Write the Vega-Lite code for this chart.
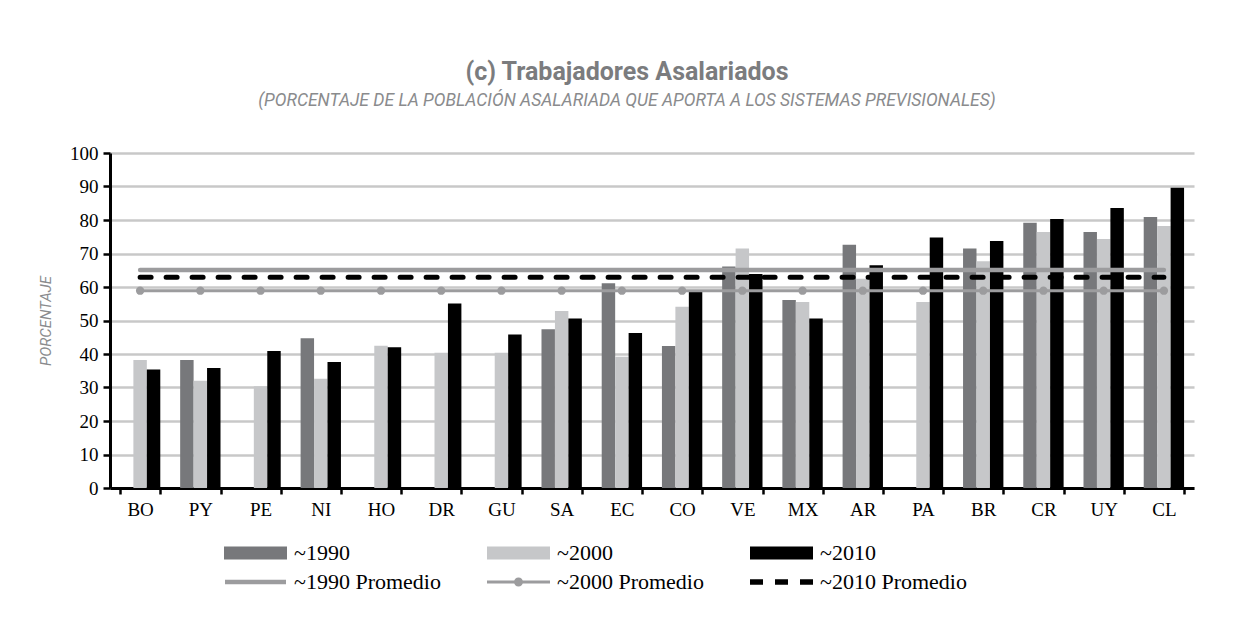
{
  "$schema": "https://vega.github.io/schema/vega-lite/v6.json",
  "autosize": {"type": "none"},
  "width": 1084,
  "height": 335,
  "padding": {"left": 110, "top": 153, "right": 49, "bottom": 150},
  "background": "white",
  "title": {
    "text": "(c) Trabajadores Asalariados",
    "subtitle": "(PORCENTAJE DE LA POBLACIÓN ASALARIADA QUE APORTA A LOS SISTEMAS PREVISIONALES)",
    "anchor": "middle",
    "frame": "group",
    "dx": -25,
    "offset": 35,
    "font": "Roboto",
    "fontSize": 25,
    "fontWeight": "bold",
    "color": "#7b7c7e",
    "subtitleFont": "Roboto",
    "subtitleFontSize": 17.5,
    "subtitleFontStyle": "italic",
    "subtitleColor": "#8a8b8d",
    "subtitlePadding": 7
  },
  "config": {
    "view": {"stroke": null},
    "axis": {
      "labelFont": "Liberation Serif",
      "labelFontSize": 19,
      "labelColor": "black",
      "domainColor": "black",
      "domainWidth": 3,
      "tickColor": "black",
      "tickWidth": 2.5
    },
    "legend": {
      "labelFont": "Liberation Serif",
      "labelFontSize": 22,
      "labelColor": "black"
    }
  },
  "datasets": {
    "barras": [
      {"pais": "BO", "serie": "~2000", "valor": 38.2},
      {"pais": "BO", "serie": "~2010", "valor": 35.4},
      {"pais": "PY", "serie": "~1990", "valor": 38.2},
      {"pais": "PY", "serie": "~2000", "valor": 32.0},
      {"pais": "PY", "serie": "~2010", "valor": 35.8},
      {"pais": "PE", "serie": "~2000", "valor": 30.4},
      {"pais": "PE", "serie": "~2010", "valor": 40.9},
      {"pais": "NI", "serie": "~1990", "valor": 44.7},
      {"pais": "NI", "serie": "~2000", "valor": 32.6},
      {"pais": "NI", "serie": "~2010", "valor": 37.6},
      {"pais": "HO", "serie": "~2000", "valor": 42.5},
      {"pais": "HO", "serie": "~2010", "valor": 42.0},
      {"pais": "DR", "serie": "~2000", "valor": 40.4},
      {"pais": "DR", "serie": "~2010", "valor": 55.1},
      {"pais": "GU", "serie": "~2000", "valor": 40.4},
      {"pais": "GU", "serie": "~2010", "valor": 45.8},
      {"pais": "SA", "serie": "~1990", "valor": 47.4},
      {"pais": "SA", "serie": "~2000", "valor": 52.8},
      {"pais": "SA", "serie": "~2010", "valor": 50.6},
      {"pais": "EC", "serie": "~1990", "valor": 61.1},
      {"pais": "EC", "serie": "~2000", "valor": 39.2},
      {"pais": "EC", "serie": "~2010", "valor": 46.3},
      {"pais": "CO", "serie": "~1990", "valor": 42.4},
      {"pais": "CO", "serie": "~2000", "valor": 54.1},
      {"pais": "CO", "serie": "~2010", "valor": 58.8},
      {"pais": "VE", "serie": "~1990", "valor": 66.1},
      {"pais": "VE", "serie": "~2000", "valor": 71.5},
      {"pais": "VE", "serie": "~2010", "valor": 63.9},
      {"pais": "MX", "serie": "~1990", "valor": 56.1},
      {"pais": "MX", "serie": "~2000", "valor": 55.5},
      {"pais": "MX", "serie": "~2010", "valor": 50.6},
      {"pais": "AR", "serie": "~1990", "valor": 72.6},
      {"pais": "AR", "serie": "~2000", "valor": 62.5},
      {"pais": "AR", "serie": "~2010", "valor": 66.5},
      {"pais": "PA", "serie": "~2000", "valor": 55.5},
      {"pais": "PA", "serie": "~2010", "valor": 74.8},
      {"pais": "BR", "serie": "~1990", "valor": 71.5},
      {"pais": "BR", "serie": "~2000", "valor": 67.7},
      {"pais": "BR", "serie": "~2010", "valor": 73.7},
      {"pais": "CR", "serie": "~1990", "valor": 79.2},
      {"pais": "CR", "serie": "~2000", "valor": 76.4},
      {"pais": "CR", "serie": "~2010", "valor": 80.3},
      {"pais": "UY", "serie": "~1990", "valor": 76.4},
      {"pais": "UY", "serie": "~2000", "valor": 74.3},
      {"pais": "UY", "serie": "~2010", "valor": 83.6},
      {"pais": "CL", "serie": "~1990", "valor": 80.9},
      {"pais": "CL", "serie": "~2000", "valor": 78.2},
      {"pais": "CL", "serie": "~2010", "valor": 89.6}
    ],
    "prom1990": [
      {"pais": "BO", "valor": 65.1}, {"pais": "PY", "valor": 65.1}, {"pais": "PE", "valor": 65.1},
      {"pais": "NI", "valor": 65.1}, {"pais": "HO", "valor": 65.1}, {"pais": "DR", "valor": 65.1},
      {"pais": "GU", "valor": 65.1}, {"pais": "SA", "valor": 65.1}, {"pais": "EC", "valor": 65.1},
      {"pais": "CO", "valor": 65.1}, {"pais": "VE", "valor": 65.1}, {"pais": "MX", "valor": 65.1},
      {"pais": "AR", "valor": 65.1}, {"pais": "PA", "valor": 65.1}, {"pais": "BR", "valor": 65.1},
      {"pais": "CR", "valor": 65.1}, {"pais": "UY", "valor": 65.1}, {"pais": "CL", "valor": 65.1}
    ],
    "prom2000": [
      {"pais": "BO", "valor": 58.9}, {"pais": "PY", "valor": 58.9}, {"pais": "PE", "valor": 58.9},
      {"pais": "NI", "valor": 58.9}, {"pais": "HO", "valor": 58.9}, {"pais": "DR", "valor": 58.9},
      {"pais": "GU", "valor": 58.9}, {"pais": "SA", "valor": 58.9}, {"pais": "EC", "valor": 58.9},
      {"pais": "CO", "valor": 58.9}, {"pais": "VE", "valor": 58.9}, {"pais": "MX", "valor": 58.9},
      {"pais": "AR", "valor": 58.9}, {"pais": "PA", "valor": 58.9}, {"pais": "BR", "valor": 58.9},
      {"pais": "CR", "valor": 58.9}, {"pais": "UY", "valor": 58.9}, {"pais": "CL", "valor": 58.9}
    ],
    "prom2010": [
      {"pais": "BO", "valor": 62.9}, {"pais": "PY", "valor": 62.9}, {"pais": "PE", "valor": 62.9},
      {"pais": "NI", "valor": 62.9}, {"pais": "HO", "valor": 62.9}, {"pais": "DR", "valor": 62.9},
      {"pais": "GU", "valor": 62.9}, {"pais": "SA", "valor": 62.9}, {"pais": "EC", "valor": 62.9},
      {"pais": "CO", "valor": 62.9}, {"pais": "VE", "valor": 62.9}, {"pais": "MX", "valor": 62.9},
      {"pais": "AR", "valor": 62.9}, {"pais": "PA", "valor": 62.9}, {"pais": "BR", "valor": 62.9},
      {"pais": "CR", "valor": 62.9}, {"pais": "UY", "valor": 62.9}, {"pais": "CL", "valor": 62.9}
    ]
  },
  "encoding": {
    "x": {
      "field": "pais",
      "type": "nominal",
      "sort": ["BO","PY","PE","NI","HO","DR","GU","SA","EC","CO","VE","MX","AR","PA","BR","CR","UY","CL"],
      "scale": {"paddingInner": 0.33, "paddingOuter": 0.165},
      "axis": {
        "title": null,
        "labelAngle": 0,
        "tickBand": "extent",
        "tickSize": 6,
        "labelPadding": 6,
        "grid": false
      }
    },
    "y": {
      "field": "valor",
      "type": "quantitative",
      "scale": {"domain": [0, 100], "nice": false},
      "axis": {
        "title": "PORCENTAJE",
        "titleFont": "Roboto",
        "titleFontSize": 15,
        "titleFontStyle": "italic",
        "titleFontWeight": "normal",
        "titleColor": "#8a8b8d",
        "titlePadding": 16,
        "values": [0,10,20,30,40,50,60,70,80,90,100],
        "tickSize": 7,
        "labelPadding": 5,
        "grid": true,
        "gridColor": "#c8c8c8",
        "gridWidth": 2.3
      }
    }
  },
  "layer": [
    {
      "data": {"name": "barras"},
      "mark": {"type": "bar"},
      "encoding": {
        "xOffset": {"field": "serie", "type": "nominal", "sort": ["~1990", "~2000", "~2010"], "scale": {"domain": ["~1990", "~2000", "~2010"]}},
        "color": {
          "field": "serie",
          "type": "nominal",
          "scale": {
            "domain": ["~1990", "~2000", "~2010", "~1990 Promedio", "~2000 Promedio", "~2010 Promedio"],
            "range": ["#77787b", "#c6c7c9", "#000000", "#9c9c9e", "#9c9c9e", "#000000"]
          },
          "legend": {
            "title": null,
            "orient": "none",
            "legendX": 113,
            "legendY": 389,
            "columns": 3,
            "direction": "horizontal",
            "gridAlign": "all",
            "padding": 0,
            "symbolSize": 400,
            "symbolStrokeWidth": 0,
            "labelOffset": 49,
            "columnPadding": 45,
            "rowPadding": 7,
            "labelFont": "Liberation Serif",
            "labelFontSize": 22,
            "labelColor": "black",
            "labelLimit": 400,
            "encode": {
              "labels": {
                "update": {
                  "font": {"value": "Liberation Serif"},
                  "fontSize": {"value": 22}
                }
              },
              "symbols": {
                "update": {
                  "shape": {"signal": "datum.value === '~1990 Promedio' ? 'M-0.9,-0.22H5.2V0.22H-0.9Z' : datum.value === '~2000 Promedio' ? 'M-1,-0.15H5.3V0.15H-1Z M1.7,0A0.45,0.45 0 1,1 2.6,0A0.45,0.45 0 1,1 1.7,0Z' : datum.value === '~2010 Promedio' ? 'M-1,-0.27H0.3V0.27H-1Z M1.5,-0.27H2.8V0.27H1.5Z M4,-0.27H5.3V0.27H4Z' : 'M-1,-0.66H5.3V0.66H-1Z'"},
                  "fill": {"scale": "color", "field": "value"},
                  "opacity": {"value": 1}
                }
              }
            }
          }
        }
      }
    },
    {
      "data": {"name": "prom1990"},
      "mark": {"type": "line", "color": "#9c9c9e", "strokeWidth": 4.5, "strokeCap": "round"},
      "encoding": {}
    },
    {
      "data": {"name": "prom2000"},
      "mark": {"type": "line", "color": "#9c9c9e", "strokeWidth": 3},
      "encoding": {}
    },
    {
      "data": {"name": "prom2000"},
      "mark": {"type": "circle", "color": "#9c9c9e", "size": 70, "opacity": 1},
      "encoding": {}
    },
    {
      "data": {"name": "prom2010"},
      "mark": {"type": "line", "color": "#000000", "strokeWidth": 5, "strokeDash": [11, 15], "strokeCap": "round"},
      "encoding": {}
    }
  ]
}
